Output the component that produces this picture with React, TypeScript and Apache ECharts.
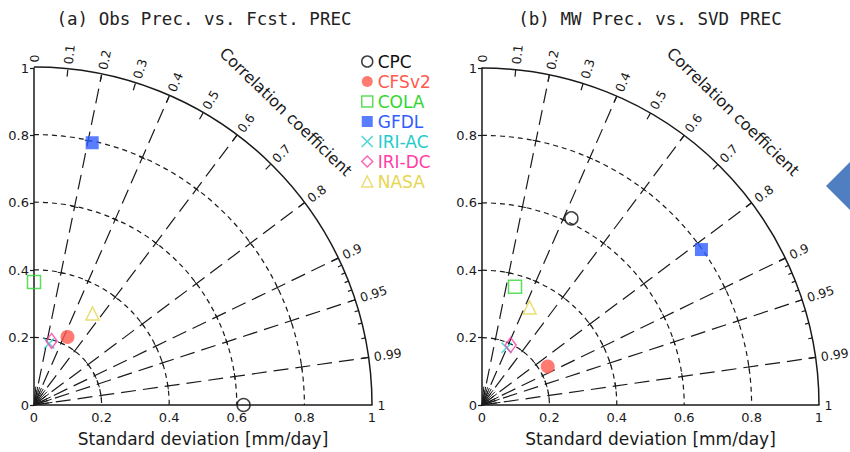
import React, { useEffect, useRef } from "react";
import * as echarts from "echarts";

// ---------- data ----------
const MODELS = ["CPC", "CFSv2", "COLA", "GFDL", "IRI-AC", "IRI-DC", "NASA"];
// Panel (a): Obs Prec. vs. Fcst. PREC
const STD_A = [0.62, 0.225, 0.365, 0.797, 0.188, 0.197, 0.322];
const CORR_A = [1.0, 0.44, 0.0, 0.216, 0.239, 0.264, 0.537];
// Panel (b): MW Prec. vs. SVD PREC
const STD_B = [0.614, 0.226, 0.364, 0.798, 0.185, 0.197, 0.322];
const CORR_B = [0.432, 0.863, 0.269, 0.816, 0.395, 0.431, 0.438];

const TITLES = ["(a) Obs Prec. vs. Fcst. PREC", "(b) MW Prec. vs. SVD PREC"];
const X_NAME = "Standard deviation [mm/day]";
const CORR_NAME = "Correlation coefficient";

const SD_LEVELS = [0.2, 0.4, 0.6, 0.8];
const RAY_CORRS = [0.2, 0.4, 0.6, 0.8, 0.9, 0.95, 0.99];
const FAN_CORRS = [0.1, 0.2, 0.3, 0.4, 0.5, 0.6, 0.7, 0.8, 0.9, 0.95, 0.99];
const MAJOR_TICK_CORRS = [0.1, 0.2, 0.3, 0.4, 0.5, 0.6, 0.7, 0.8, 0.9, 0.95, 0.99];
const MINOR_TICK_CORRS = [0.91, 0.92, 0.93, 0.94, 0.96, 0.97, 0.98];
const CORR_LABELS = [0, 0.1, 0.2, 0.3, 0.4, 0.5, 0.6, 0.7, 0.8, 0.9, 0.95, 0.99, 1];

// ---------- styles ----------
const INK = "#1a1a1a";
const X_PATH = "path://M0,0L10,10M10,0L0,10";
const MARKERS: Record<string, any> = {
  CPC: { symbol: "circle", size: 13, color: "#111111", hollow: true },
  CFSv2: { symbol: "circle", size: 14, color: "#ff5a4e", hollow: false },
  COLA: { symbol: "rect", size: 13, color: "#33d633", hollow: true },
  GFDL: { symbol: "rect", size: 13, color: "#2f5cff", hollow: false },
  "IRI-AC": { symbol: X_PATH, size: 10, color: "#22cccc", hollow: true },
  "IRI-DC": { symbol: "diamond", size: [11, 15], color: "#ff3fa6", hollow: true },
  NASA: { symbol: "triangle", size: 13, color: "#e6d650", hollow: true },
};

const styleFor = (name: string) => {
  const m = MARKERS[name];
  return m.hollow
    ? { color: "rgba(0,0,0,0)", borderColor: m.color, borderWidth: 1.5 }
    : { color: m.color, borderWidth: 0 };
};

const toXY = (s: number, c: number) => [s * c, s * Math.sqrt(Math.max(0, 1 - c * c))];

const GRIDS = [
  { left: 34, top: 68, width: 338, height: 337 },
  { left: 482, top: 68, width: 337, height: 337 },
];

const numFont = { fontFamily: "DejaVu Sans", fontSize: 13, color: INK };

function buildSeries() {
  const series: any[] = [];
  [0, 1].forEach((i) => {
    const ax = { xAxisIndex: i, yAxisIndex: i };
    // SD arcs (dashed)
    series.push({
      type: "custom", ...ax, name: `sd${i}`, silent: true, z: 2,
      data: SD_LEVELS.map((v) => [v, 0]),
      renderItem: (p: any, api: any) => {
        const o = api.coord([0, 0]);
        const e = api.coord([api.value(0), 0]);
        return {
          type: "arc",
          shape: { cx: o[0], cy: o[1], r: e[0] - o[0], startAngle: -Math.PI / 2, endAngle: 0, clockwise: true },
          style: { stroke: INK, fill: null, lineWidth: 1.2, lineDash: [5, 4] },
        };
      },
    });
    // outer arc
    series.push({
      type: "custom", ...ax, name: `outer${i}`, silent: true, z: 3,
      data: [[1, 0]],
      renderItem: (p: any, api: any) => {
        const o = api.coord([0, 0]);
        const e = api.coord([api.value(0), 0]);
        return {
          type: "arc",
          shape: { cx: o[0], cy: o[1], r: e[0] - o[0], startAngle: -Math.PI / 2, endAngle: 0, clockwise: true },
          style: { stroke: INK, fill: null, lineWidth: 1.5 },
        };
      },
    });
    // correlation rays
    series.push({
      type: "custom", ...ax, name: `rays${i}`, silent: true, z: 2,
      data: RAY_CORRS.map((c) => [c, 0]),
      renderItem: (p: any, api: any) => {
        const th = Math.acos(api.value(0));
        const co = Math.cos(th), si = Math.sin(th);
        const o = api.coord([0, 0]);
        const e = api.coord([co, si]);
        const children: any[] = [
          {
            type: "line",
            shape: { x1: o[0], y1: o[1], x2: e[0], y2: e[1] },
            style: { stroke: INK, lineWidth: 1.2, lineDash: [15, 7] },
          },
        ];
        SD_LEVELS.forEach((s) => {
          const q = api.coord([s * co, s * si]);
          const nx = si * 3.5, ny = co * 3.5;
          children.push({
            type: "line",
            shape: { x1: q[0] - nx, y1: q[1] - ny, x2: q[0] + nx, y2: q[1] + ny },
            style: { stroke: INK, lineWidth: 1 },
          });
        });
        return { type: "group", children };
      },
    });
    // fan near origin
    series.push({
      type: "custom", ...ax, name: `fan${i}`, silent: true, z: 2,
      data: FAN_CORRS.map((c) => [c, 0]),
      renderItem: (p: any, api: any) => {
        const th = Math.acos(api.value(0));
        const o = api.coord([0, 0]);
        const e = api.coord([0.055 * Math.cos(th), 0.055 * Math.sin(th)]);
        return {
          type: "line",
          shape: { x1: o[0], y1: o[1], x2: e[0], y2: e[1] },
          style: { stroke: INK, lineWidth: 1 },
        };
      },
    });
    // ticks on outer arc
    const tickSeries = (data: number[], len: number, nm: string) => ({
      type: "custom", ...ax, name: nm, silent: true, z: 3,
      data: data.map((c) => [c, 0]),
      renderItem: (p: any, api: any) => {
        const th = Math.acos(api.value(0));
        const co = Math.cos(th), si = Math.sin(th);
        const e = api.coord([co, si]);
        return {
          type: "line",
          shape: { x1: e[0], y1: e[1], x2: e[0] - len * co, y2: e[1] + len * si },
          style: { stroke: INK, lineWidth: 1.2 },
        };
      },
    });
    series.push(tickSeries(MAJOR_TICK_CORRS, 7, `major${i}`));
    series.push(tickSeries(MINOR_TICK_CORRS, 4, `minor${i}`));
    // correlation labels
    series.push({
      type: "custom", ...ax, name: `clabels${i}`, silent: true, z: 3,
      data: CORR_LABELS.map((c) => [c, 0]),
      renderItem: (p: any, api: any) => {
        const c = api.value(0);
        const th = Math.acos(c);
        const q = api.coord([1.016 * Math.cos(th), 1.016 * Math.sin(th)]);
        return {
          type: "text", x: q[0], y: q[1], rotation: th,
          style: {
            text: String(c), fill: INK, fontSize: 12.5, fontFamily: "DejaVu Sans",
            align: "left", verticalAlign: "middle", textAlign: "left", textVerticalAlign: "middle",
          },
        };
      },
    });
    // "Correlation coefficient" caption
    series.push({
      type: "custom", ...ax, name: `cname${i}`, silent: true, z: 3,
      data: [[0, 0]],
      renderItem: (p: any, api: any) => {
        const q = api.coord([0.745, 0.87]);
        return {
          type: "text", x: q[0], y: q[1], rotation: (-44 * Math.PI) / 180,
          style: {
            text: CORR_NAME, fill: INK, fontSize: 16, fontFamily: "DejaVu Sans",
            align: "center", verticalAlign: "middle", textAlign: "center", textVerticalAlign: "middle",
          },
        };
      },
    });
    // model points
    const stds = i === 0 ? STD_A : STD_B;
    const corrs = i === 0 ? CORR_A : CORR_B;
    MODELS.forEach((m, k) => {
      series.push({
        type: "scatter", ...ax, name: m, z: 10,
        symbol: MARKERS[m].symbol,
        symbolSize: MARKERS[m].size,
        itemStyle: styleFor(m),
        emphasis: { disabled: true },
        data: [toXY(stds[k], corrs[k])],
      });
    });
  });
  return series;
}

export default function App() {
  const ref = useRef<HTMLDivElement>(null);
  useEffect(() => {
    if (!ref.current) return;
    const chart = echarts.init(ref.current, null, { renderer: "svg" });
    const xAxes = [0, 1].map((i) => ({
      gridIndex: i, type: "value", min: 0, max: 1, interval: 0.2,
      axisLine: { show: true, onZero: false, lineStyle: { color: INK, width: 1.5 } },
      axisTick: { show: false },
      splitLine: { show: false },
      axisLabel: { ...numFont, margin: 6 },
      name: X_NAME, nameLocation: "middle", nameGap: 25,
      nameTextStyle: { fontFamily: "DejaVu Sans", fontSize: 17, color: INK },
    }));
    const yAxes = [0, 1].map((i) => ({
      gridIndex: i, type: "value", min: 0, max: 1, interval: 0.2,
      axisLine: { show: true, onZero: false, lineStyle: { color: INK, width: 1.5 } },
      axisTick: { show: true, length: 4, inside: false, lineStyle: { color: INK, width: 1.2 } },
      splitLine: { show: false },
      axisLabel: { ...numFont, margin: 5 },
    }));
    chart.setOption({
      animation: false,
      backgroundColor: "#ffffff",
      grid: GRIDS,
      xAxis: xAxes,
      yAxis: yAxes,
      legend: {
        orient: "vertical", left: 356, top: 48,
        itemWidth: 11, itemHeight: 11, itemGap: 3,
        selectedMode: false,
        textStyle: { fontFamily: "DejaVu Sans", fontSize: 17, lineHeight: 13.4 },
        data: MODELS.map((m) => ({
          name: m,
          icon: MARKERS[m].symbol,
          itemStyle: styleFor(m),
          textStyle: { color: MARKERS[m].color },
        })),
      },
      graphic: [
        {
          type: "text", x: 204, y: 19,
          style: {
            text: TITLES[0], fill: "#222", fontSize: 17.5, fontFamily: "DejaVu Sans Mono",
            align: "center", verticalAlign: "middle", textAlign: "center", textVerticalAlign: "middle",
          },
        },
        {
          type: "text", x: 650, y: 19,
          style: {
            text: TITLES[1], fill: "#222", fontSize: 17.5, fontFamily: "DejaVu Sans Mono",
            align: "center", verticalAlign: "middle", textAlign: "center", textVerticalAlign: "middle",
          },
        },
        {
          type: "polygon",
          shape: { points: [[826, 186], [850, 162], [874, 186], [850, 210]] },
          style: { fill: "#4f7fc0" },
        },
      ],
      series: buildSeries(),
    });
    return () => chart.dispose();
  }, []);
  return (
    <div
      ref={ref}
      style={{ position: "absolute", left: 0, top: 0, width: 850, height: 452 }}
    />
  );
}
